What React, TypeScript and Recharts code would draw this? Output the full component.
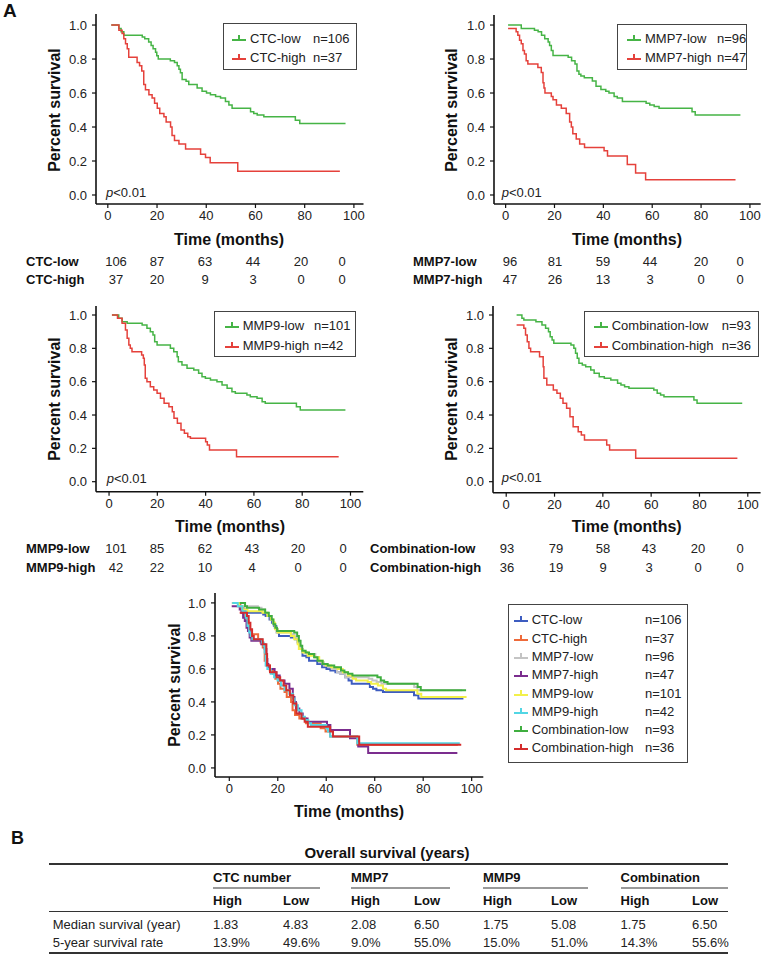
import React from 'react';
import { LineChart, Line, XAxis, YAxis } from 'recharts';

const FONT = '"Liberation Sans", Arial, Helvetica, sans-serif';

// each pair: [month, survival] where the step curve changes; last pair = end of follow-up
const ctcLow = [[1.4, 1], [4.5, 0.98], [5.4, 0.96], [6.5, 0.94], [14.0, 0.93], [15.0, 0.92], [16.6, 0.9], [17.6, 0.88], [18.4, 0.86], [19.4, 0.84], [19.9, 0.82], [20.5, 0.8], [25.4, 0.79], [27.1, 0.78], [28.2, 0.76], [28.9, 0.74], [29.5, 0.72], [30.2, 0.68], [31.8, 0.67], [32.9, 0.65], [36.3, 0.63], [38.3, 0.61], [40.1, 0.6], [41.7, 0.59], [43.8, 0.58], [45.8, 0.57], [47.8, 0.55], [49.2, 0.53], [50.5, 0.51], [58.0, 0.49], [59.3, 0.48], [60.7, 0.47], [63.4, 0.46], [76.2, 0.44], [78.0, 0.42], [96.6, 0.42]];
const ctcHigh = [[1.4, 1], [4.5, 0.97], [5.8, 0.95], [6.5, 0.92], [7.2, 0.89], [7.9, 0.86], [8.5, 0.81], [11.9, 0.78], [12.9, 0.76], [13.8, 0.73], [14.6, 0.65], [15.3, 0.62], [16.7, 0.59], [18.0, 0.57], [19.0, 0.54], [20.1, 0.51], [21.1, 0.48], [22.8, 0.46], [23.7, 0.43], [25.5, 0.4], [26.1, 0.35], [27.1, 0.32], [28.9, 0.3], [31.6, 0.27], [37.7, 0.24], [39.7, 0.22], [41.6, 0.19], [52.8, 0.14], [94.3, 0.14]];
const mmp7Low = [[1.0, 1], [6.4, 0.98], [11.8, 0.97], [13.3, 0.96], [14.7, 0.94], [16.0, 0.92], [17.4, 0.9], [18.0, 0.88], [18.7, 0.85], [19.4, 0.82], [25.6, 0.81], [27.0, 0.79], [28.4, 0.77], [29.2, 0.73], [30.0, 0.71], [30.8, 0.7], [32.2, 0.69], [35.5, 0.67], [37.0, 0.64], [39.0, 0.62], [41.0, 0.61], [42.3, 0.6], [44.4, 0.58], [45.7, 0.57], [47.8, 0.55], [57.5, 0.54], [59.0, 0.53], [60.8, 0.52], [62.8, 0.51], [76.3, 0.49], [77.6, 0.47], [96.1, 0.47]];
const mmp7High = [[1.0, 0.98], [4.3, 0.96], [5.0, 0.94], [5.7, 0.91], [6.4, 0.89], [7.1, 0.85], [7.7, 0.83], [8.4, 0.79], [9.1, 0.77], [13.2, 0.75], [14.6, 0.72], [15.3, 0.66], [15.7, 0.63], [16.1, 0.6], [18.7, 0.58], [19.4, 0.56], [20.8, 0.53], [22.8, 0.51], [24.8, 0.48], [26.2, 0.43], [26.9, 0.4], [27.5, 0.36], [28.9, 0.33], [30.3, 0.3], [32.3, 0.28], [40.3, 0.26], [41.7, 0.23], [49.8, 0.18], [53.2, 0.13], [57.3, 0.09], [94.1, 0.09]];
const mmp9Low = [[1.2, 1], [4.0, 0.98], [5.4, 0.96], [7.5, 0.95], [13.7, 0.94], [15.7, 0.92], [17.1, 0.9], [18.2, 0.88], [18.9, 0.84], [19.9, 0.82], [25.4, 0.8], [26.8, 0.78], [28.2, 0.75], [28.7, 0.72], [30.2, 0.7], [32.3, 0.68], [35.1, 0.67], [37.1, 0.65], [38.5, 0.63], [39.9, 0.62], [42.0, 0.61], [44.7, 0.6], [46.8, 0.58], [48.9, 0.56], [50.9, 0.54], [52.3, 0.53], [57.1, 0.52], [58.5, 0.51], [61.3, 0.5], [63.4, 0.48], [64.7, 0.47], [77.6, 0.45], [79.2, 0.43], [97.9, 0.43]];
const mmp9High = [[1.2, 1], [3.5, 0.98], [5.4, 0.95], [6.8, 0.91], [7.5, 0.86], [8.2, 0.82], [8.8, 0.8], [9.5, 0.78], [13.5, 0.76], [14.2, 0.74], [14.6, 0.7], [15.0, 0.62], [15.7, 0.6], [17.1, 0.57], [18.5, 0.55], [19.9, 0.53], [21.3, 0.5], [22.8, 0.47], [24.8, 0.45], [26.2, 0.42], [26.9, 0.38], [28.3, 0.35], [29.8, 0.31], [31.2, 0.29], [32.6, 0.27], [33.7, 0.26], [40.0, 0.24], [40.7, 0.22], [41.6, 0.19], [52.8, 0.15], [95.1, 0.15]];
const comboLow = [[4.3, 1], [6.5, 0.98], [7.3, 0.97], [12.3, 0.96], [14.8, 0.94], [16.3, 0.92], [17.5, 0.9], [18.2, 0.87], [19.0, 0.85], [19.7, 0.83], [26.8, 0.82], [28.0, 0.8], [28.7, 0.77], [29.4, 0.74], [30.1, 0.71], [31.5, 0.7], [32.9, 0.69], [35.0, 0.67], [36.4, 0.65], [38.5, 0.63], [40.6, 0.62], [43.3, 0.61], [46.1, 0.59], [47.5, 0.58], [49.0, 0.57], [50.8, 0.56], [61.1, 0.55], [62.5, 0.53], [63.9, 0.52], [65.3, 0.51], [77.7, 0.49], [79.0, 0.47], [97.7, 0.47]];
const comboHigh = [[4.3, 0.94], [7.3, 0.92], [8.0, 0.88], [8.7, 0.84], [9.4, 0.8], [10.1, 0.78], [13.8, 0.75], [15.3, 0.69], [15.6, 0.62], [16.8, 0.58], [19.5, 0.55], [21.0, 0.53], [22.4, 0.5], [23.5, 0.47], [25.0, 0.44], [26.4, 0.39], [27.7, 0.33], [29.8, 0.3], [31.1, 0.28], [32.4, 0.25], [41.6, 0.22], [42.8, 0.19], [53.6, 0.14], [95.7, 0.14]];

const xTicks = [0, 20, 40, 60, 80, 100];
const yTicks = [0, 0.2, 0.4, 0.6, 0.8, 1.0];

// numbers at risk at 0, 20, 40, 60, 80, 100 months
const riskCtcLow = [106, 87, 63, 44, 20, 0];
const riskCtcHigh = [37, 20, 9, 3, 0, 0];
const riskMmp7Low = [96, 81, 59, 44, 20, 0];
const riskMmp7High = [47, 26, 13, 3, 0, 0];
const riskMmp9Low = [101, 85, 62, 43, 20, 0];
const riskMmp9High = [42, 22, 10, 4, 0, 0];
const riskComboLow = [93, 79, 58, 43, 20, 0];
const riskComboHigh = [36, 19, 9, 3, 0, 0];

// table B
const tableGroups = ['CTC number', 'MMP7', 'MMP9', 'Combination'];
const tableRows = [
  { label: 'Median survival (year)', values: ['1.83', '4.83', '2.08', '6.50', '1.75', '5.08', '1.75', '6.50'] },
  { label: '5-year survival rate', values: ['13.9%', '49.6%', '9.0%', '55.0%', '15.0%', '51.0%', '14.3%', '55.6%'] },
];

const GREEN = '#46b446';
const RED = '#e5413b';
const FRAME = '#7a7a7a';

const toPts = (arr: number[][]) => arr.map(([t, s]) => ({ t, s }));

type Series = { name: string; data: number[][]; color: string };
type Frame = { x: number; y: number; w: number; h: number };

function KMChart({ frame, xDom, yDom, series, sw = 1.5 }: { frame: Frame; xDom: number[]; yDom: number[]; series: Series[]; sw?: number }) {
  const padL = 60;
  const padB = 26;
  const padR = 16;
  const padT = 2;
  const w = frame.w + padL + padR;
  const h = frame.h + padB + padT;
  const tickStyle = { fontSize: 13, fill: '#222', fontFamily: FONT };
  return (
    <div style={{ position: 'absolute', left: frame.x - padL, top: frame.y - padT }}>
      <LineChart width={w} height={h} margin={{ top: padT, right: padR, bottom: 0, left: 0 }}>
        {/* grey top and right sides of the frame */}
        <XAxis xAxisId="top" orientation="top" type="number" domain={xDom} allowDataOverflow height={0}
          tick={false} tickLine={false} axisLine={{ stroke: FRAME, strokeWidth: 2.4 }} />
        <YAxis yAxisId="right" orientation="right" type="number" domain={yDom} allowDataOverflow width={0}
          tick={false} tickLine={false} axisLine={{ stroke: FRAME, strokeWidth: 2.4 }} />
        <XAxis type="number" dataKey="t" domain={xDom} ticks={xTicks} allowDataOverflow interval={0} height={padB}
          axisLine={{ stroke: '#111', strokeWidth: 1.6 }} tickLine={{ stroke: '#111', strokeWidth: 1.2 }} tickSize={4} tickMargin={3} tick={tickStyle} />
        <YAxis type="number" dataKey="s" domain={yDom} ticks={yTicks} allowDataOverflow interval={0} width={padL}
          axisLine={{ stroke: '#111', strokeWidth: 1.6 }} tickLine={{ stroke: '#111', strokeWidth: 1.2 }} tickSize={4} tickMargin={5} tick={tickStyle}
          tickFormatter={(v: number) => v.toFixed(1)} />
        {series.map((s) => (
          <Line key={s.name} data={toPts(s.data)} dataKey="s" type="stepAfter" stroke={s.color} strokeWidth={sw}
            dot={false} activeDot={false} isAnimationActive={false} />
        ))}
      </LineChart>
    </div>
  );
}

const abs = (x: number, y: number, extra: React.CSSProperties = {}): React.CSSProperties => ({
  position: 'absolute', left: x, top: y, fontFamily: FONT, whiteSpace: 'nowrap', lineHeight: 1, ...extra,
});

function Centered({ x, y, children, style }: { x: number; y: number; children: React.ReactNode; style?: React.CSSProperties }) {
  return <div style={abs(x, y, { transform: 'translate(-50%, -50%)', ...style })}>{children}</div>;
}

function YTitle({ x, y }: { x: number; y: number }) {
  return (
    <div style={abs(x, y, { transform: 'translate(-50%, -50%) rotate(-90deg)', fontSize: 16, fontWeight: 'bold', color: '#111' })}>
      Percent survival
    </div>
  );
}

function XTitle({ x, y }: { x: number; y: number }) {
  return <Centered x={x} y={y} style={{ fontSize: 16, fontWeight: 'bold', color: '#111' }}>Time (months)</Centered>;
}

function PValue({ x, y }: { x: number; y: number }) {
  return (
    <div style={abs(x, y, { transform: 'translateY(-50%)', fontSize: 13, color: '#222' })}>
      <i>p</i>&lt;0.01
    </div>
  );
}

function Sym({ color, x, y, size = 14 }: { color: string; x: number; y: number; size?: number }) {
  return (
    <svg style={{ position: 'absolute', left: x - size / 2, top: y - 5 }} width={size} height={10}>
      <line x1={0} y1={7} x2={size} y2={7} stroke={color} strokeWidth={2} />
      <line x1={size / 2} y1={2} x2={size / 2} y2={7} stroke={color} strokeWidth={2} />
    </svg>
  );
}

function BoxLegend({ box, rows, textX, nX, rowY, fontSize = 13 }: {
  box: Frame; rows: { label: string; n: string; color: string }[]; textX: number; nX: number; rowY: number[]; fontSize?: number;
}) {
  return (
    <>
      <div style={{ position: 'absolute', left: box.x, top: box.y, width: box.w, height: box.h, border: '1px solid #444', boxSizing: 'border-box', background: '#fff' }} />
      {rows.map((r, i) => (
        <React.Fragment key={r.label}>
          <Sym color={r.color} x={textX - 11} y={rowY[i]} />
          <div style={abs(textX, rowY[i], { transform: 'translateY(-50%)', fontSize, color: '#222' })}>{r.label}</div>
          <div style={abs(nX, rowY[i], { transform: 'translateY(-50%)', fontSize, color: '#222' })}>{r.n}</div>
        </React.Fragment>
      ))}
    </>
  );
}

function RiskTable({ labelX, xs, rowY, rows }: { labelX: number; xs: number[]; rowY: number[]; rows: { label: string; values: number[] }[] }) {
  return (
    <>
      {rows.map((r, i) => (
        <React.Fragment key={r.label}>
          <div style={abs(labelX, rowY[i], { transform: 'translateY(-50%)', fontSize: 13, fontWeight: 'bold', color: '#111' })}>{r.label}</div>
          {r.values.map((v, j) => (
            <Centered key={j} x={xs[j]} y={rowY[i]} style={{ fontSize: 13, color: '#222' }}>{v}</Centered>
          ))}
        </React.Fragment>
      ))}
    </>
  );
}

export default function App() {
  const colX = [213, 283, 351, 414, 483, 551, 620.5, 692];
  const groupSpan = [[213, 319.5], [351, 450], [483, 588], [620.5, 728]];
  return (
    <div style={{ position: 'absolute', left: 0, top: 0, width: 763, height: 954, background: '#fff', overflow: 'hidden' }}>
      <div style={abs(3, 1, { fontSize: 19, fontWeight: 'bold', color: '#111' })}>A</div>

      {/* panel 1: CTC */}
      <KMChart frame={{ x: 95.5, y: 14, w: 267.5, h: 190 }} xDom={[-4.8, 103.9]} yDom={[-0.053, 1.065]}
        series={[{ name: 'CTC-low', data: ctcLow, color: GREEN }, { name: 'CTC-high', data: ctcHigh, color: RED }]} />
      <YTitle x={55} y={110} />
      <XTitle x={229} y={240} />
      <PValue x={106} y={192} />
      <BoxLegend box={{ x: 223, y: 23, w: 134, h: 47 }} textX={250} nX={313} rowY={[38, 57]}
        rows={[{ label: 'CTC-low', n: 'n=106', color: GREEN }, { label: 'CTC-high', n: 'n=37', color: RED }]} />
      <RiskTable labelX={26} xs={[116, 157, 205, 253, 301, 342]} rowY={[261, 279]}
        rows={[{ label: 'CTC-low', values: riskCtcLow }, { label: 'CTC-high', values: riskCtcHigh }]} />

      {/* panel 2: MMP7 */}
      <KMChart frame={{ x: 494.3, y: 15, w: 266.7, h: 189 }} xDom={[-4.76, 104.4]} yDom={[-0.053, 1.059]}
        series={[{ name: 'MMP7-low', data: mmp7Low, color: GREEN }, { name: 'MMP7-high', data: mmp7High, color: RED }]} />
      <YTitle x={452} y={110} />
      <XTitle x={627} y={240} />
      <PValue x={501.7} y={192} />
      <BoxLegend box={{ x: 617, y: 24, w: 130, h: 46 }} textX={645} nX={717} rowY={[38, 57]}
        rows={[{ label: 'MMP7-low', n: 'n=96', color: GREEN }, { label: 'MMP7-high', n: 'n=47', color: RED }]} />
      <RiskTable labelX={413} xs={[510, 555, 603, 650, 701, 740]} rowY={[261, 279]}
        rows={[{ label: 'MMP7-low', values: riskMmp7Low }, { label: 'MMP7-high', values: riskMmp7High }]} />

      {/* panel 3: MMP9 */}
      <KMChart frame={{ x: 95.7, y: 306, w: 267.3, h: 185.7 }} xDom={[-5.4, 105.3]} yDom={[-0.06, 1.054]}
        series={[{ name: 'MMP9-low', data: mmp9Low, color: GREEN }, { name: 'MMP9-high', data: mmp9High, color: RED }]} />
      <YTitle x={55} y={399} />
      <XTitle x={230} y={527} />
      <PValue x={106.7} y={478} />
      <BoxLegend box={{ x: 214, y: 311, w: 142, h: 46 }} textX={242.7} nX={314} rowY={[325, 345]}
        rows={[{ label: 'MMP9-low', n: 'n=101', color: GREEN }, { label: 'MMP9-high', n: 'n=42', color: RED }]} />
      <RiskTable labelX={26} xs={[116, 157, 205, 252, 298, 343]} rowY={[548, 567]}
        rows={[{ label: 'MMP9-low', values: riskMmp9Low }, { label: 'MMP9-high', values: riskMmp9High }]} />

      {/* panel 4: Combination */}
      <KMChart frame={{ x: 492.7, y: 306, w: 267.6, h: 186.7 }} xDom={[-5.47, 105.3]} yDom={[-0.066, 1.054]}
        series={[{ name: 'Combination-low', data: comboLow, color: GREEN }, { name: 'Combination-high', data: comboHigh, color: RED }]} />
      <YTitle x={452} y={399} />
      <XTitle x={626.7} y={527} />
      <PValue x={501.7} y={477} />
      <BoxLegend box={{ x: 584, y: 311, w: 175, h: 46 }} textX={611.7} nX={721.7} rowY={[325, 345]}
        rows={[{ label: 'Combination-low', n: 'n=93', color: GREEN }, { label: 'Combination-high', n: 'n=36', color: RED }]} />
      <RiskTable labelX={370} xs={[507, 556, 603, 649, 698, 740]} rowY={[548, 567]}
        rows={[{ label: 'Combination-low', values: riskComboLow }, { label: 'Combination-high', values: riskComboHigh }]} />

      {/* panel 5: all curves */}
      <KMChart frame={{ x: 215, y: 593.3, w: 268.3, h: 184 }} xDom={[-5.9, 104.8]} yDom={[-0.055, 1.06]} sw={2}
        series={[
          { name: 'CTC-low', data: ctcLow, color: '#3d5cc0' },
          { name: 'CTC-high', data: ctcHigh, color: '#ee6a3a' },
          { name: 'MMP7-low', data: mmp7Low, color: '#c4c4c4' },
          { name: 'MMP7-high', data: mmp7High, color: '#7b2d8e' },
          { name: 'MMP9-low', data: mmp9Low, color: '#f2f04a' },
          { name: 'MMP9-high', data: mmp9High, color: '#52d6e4' },
          { name: 'Combination-low', data: comboLow, color: '#3fae3f' },
          { name: 'Combination-high', data: comboHigh, color: '#d42c2c' },
        ]} />
      <YTitle x={175} y={685} />
      <XTitle x={349} y={812} />
      <BoxLegend box={{ x: 508, y: 604, w: 180, h: 159 }} textX={531.7} nX={645}
        rowY={[619.3, 637.6, 655.9, 674.2, 692.5, 710.8, 729.1, 747.4]}
        rows={[
          { label: 'CTC-low', n: 'n=106', color: '#3d5cc0' },
          { label: 'CTC-high', n: 'n=37', color: '#ee6a3a' },
          { label: 'MMP7-low', n: 'n=96', color: '#c4c4c4' },
          { label: 'MMP7-high', n: 'n=47', color: '#7b2d8e' },
          { label: 'MMP9-low', n: 'n=101', color: '#f2f04a' },
          { label: 'MMP9-high', n: 'n=42', color: '#52d6e4' },
          { label: 'Combination-low', n: 'n=93', color: '#3fae3f' },
          { label: 'Combination-high', n: 'n=36', color: '#d42c2c' },
        ]} />

      {/* B: table */}
      <div style={abs(11, 829, { fontSize: 18, fontWeight: 'bold', color: '#111' })}>B</div>
      <Centered x={387} y={852} style={{ fontSize: 15, fontWeight: 'bold', color: '#111' }}>Overall survival (years)</Centered>
      <div style={{ position: 'absolute', left: 49, top: 863, width: 679, height: 1.5, background: '#333' }} />
      {tableGroups.map((g, i) => (
        <React.Fragment key={g}>
          <div style={abs(groupSpan[i][0], 877, { transform: 'translateY(-50%)', fontSize: 13, fontWeight: 'bold', color: '#111' })}>{g}</div>
          <div style={{ position: 'absolute', left: groupSpan[i][0], top: 887, width: groupSpan[i][1] - groupSpan[i][0], height: 2, background: '#999' }} />
          <div style={abs(colX[i * 2], 900, { transform: 'translateY(-50%)', fontSize: 13, fontWeight: 'bold', color: '#111' })}>High</div>
          <div style={abs(colX[i * 2 + 1], 900, { transform: 'translateY(-50%)', fontSize: 13, fontWeight: 'bold', color: '#111' })}>Low</div>
        </React.Fragment>
      ))}
      <div style={{ position: 'absolute', left: 49, top: 910.5, width: 679, height: 1, background: '#333' }} />
      {tableRows.map((r, i) => (
        <React.Fragment key={r.label}>
          <div style={abs(52.7, 924 + i * 18, { transform: 'translateY(-50%)', fontSize: 13, color: '#222' })}>{r.label}</div>
          {r.values.map((v, j) => (
            <div key={j} style={abs(colX[j], 924 + i * 18, { transform: 'translateY(-50%)', fontSize: 13, color: '#222' })}>{v}</div>
          ))}
        </React.Fragment>
      ))}
      <div style={{ position: 'absolute', left: 49, top: 952, width: 679, height: 1.5, background: '#333' }} />
    </div>
  );
}
